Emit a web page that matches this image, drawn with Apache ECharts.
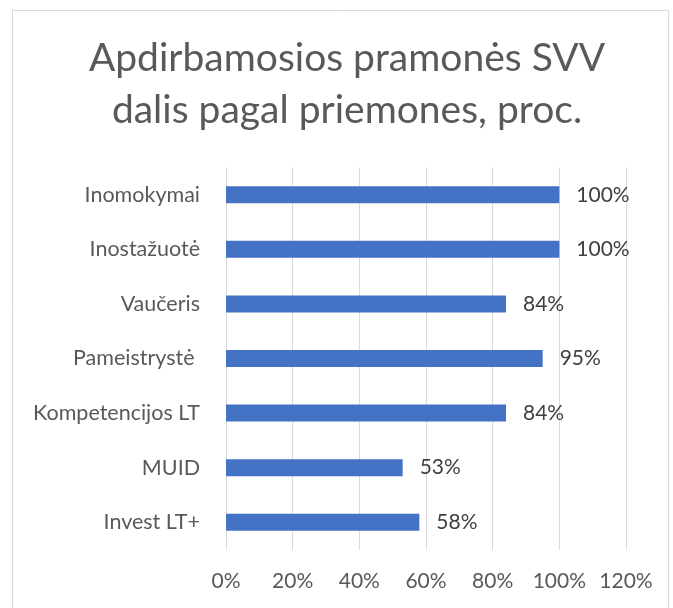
<!DOCTYPE html>
<html>
<head>
<meta charset="utf-8">
<script src="https://cdn.jsdelivr.net/npm/echarts@6/dist/echarts.min.js"></script>
<style>
html,body{margin:0;padding:0;background:#fff;}
#chart{width:673px;height:608px;}
</style>
</head>
<body>
<div id="chart"></div>
<script>
const categories = ['Inomokymai', 'Inostažuotė', 'Vaučeris', 'Pameistrystė ', 'Kompetencijos LT', 'MUID', 'Invest LT+'];
const values = [100, 100, 84, 95, 84, 53, 58];
const titleLines = ['Apdirbamosios pramonės SVV', 'dalis pagal priemones, proc.'];
const FONT = 'Lato';

const chart = echarts.init(document.getElementById('chart'), null, {renderer: 'canvas'});
chart.setOption({
  backgroundColor: '#ffffff',
  animation: false,
  graphic: [{
    type: 'rect',
    shape: {x: 12.5, y: 10.5, width: 656, height: 610},
    style: {fill: 'none', stroke: '#d9d9d9', lineWidth: 1},
    silent: true
  }, {
    type: 'text',
    x: 347,
    y: 32,
    silent: true,
    style: {
      text: titleLines.join('\n'),
      font: 'normal 39px ' + FONT,
      fill: '#595959',
      align: 'center',
      verticalAlign: 'top',
      lineHeight: 52
    }
  }],
  grid: {left: 226, right: 47, top: 167.5, bottom: 58.5, containLabel: false},
  xAxis: {
    type: 'value',
    min: 0, max: 120, interval: 20,
    axisLine: {show: false},
    axisTick: {show: false},
    splitLine: {show: true, lineStyle: {color: '#d9d9d9', width: 1}},
    axisLabel: {formatter: '{value}%', fontFamily: FONT, fontSize: 21, color: '#595959', margin: 21}
  },
  yAxis: {
    type: 'category',
    data: categories,
    inverse: true,
    axisLine: {show: false},
    axisTick: {show: false},
    axisLabel: {fontFamily: FONT, fontSize: 21.5, color: '#595959', margin: 26}
  },
  series: [{
    type: 'bar',
    data: values,
    barWidth: 17,
    itemStyle: {color: '#4472c4'},
    label: {show: true, position: 'right', distance: 17, formatter: '{c}%', fontFamily: FONT, fontSize: 21, color: '#404040'}
  }]
});
</script>
</body>
</html>
